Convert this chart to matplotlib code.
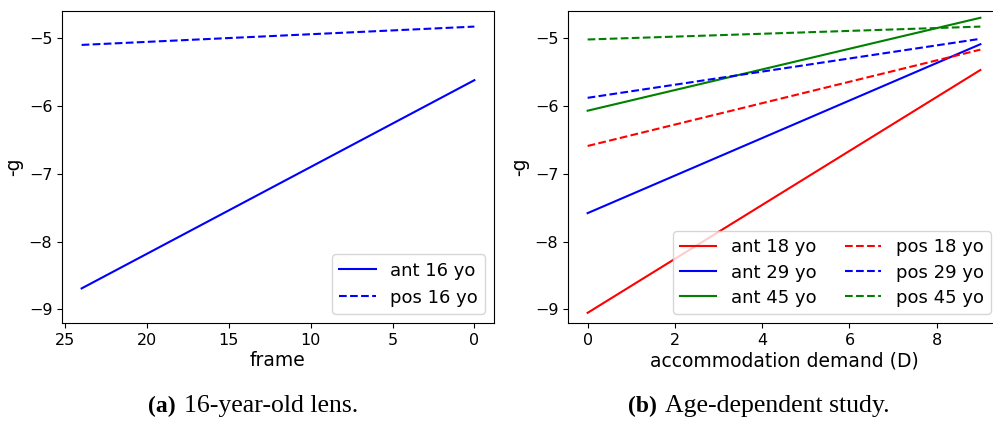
import matplotlib.pyplot as plt

# left panel: 16-year-old lens over frames
frames = [24, 0]
ant_16 = [-8.69, -5.62]
pos_16 = [-5.10, -4.83]

# right panel: age-dependent study vs accommodation demand
demand = [0, 9]
ages = ["18", "29", "45"]
age_colors = ["red", "blue", "green"]
ant_age = [[-9.05, -5.47], [-7.58, -5.09], [-6.07, -4.70]]
pos_age = [[-6.59, -5.17], [-5.88, -5.01], [-5.02, -4.83]]

plt.rcParams["font.size"] = 13.5
plt.rcParams["xtick.labelsize"] = 11.5
plt.rcParams["ytick.labelsize"] = 11.5
plt.rcParams["legend.fontsize"] = 13

W, H = 993, 422
fig = plt.figure(figsize=(W / 100, H / 100), dpi=100)


def box(x0, x1, y0, y1):
    return [x0 / W, 1 - y1 / H, (x1 - x0) / W, (y1 - y0) / H]


ax1 = fig.add_axes(box(62, 494, 11, 323))
ax1.plot(frames, ant_16, "b-", label="ant 16 yo")
ax1.plot(frames, pos_16, "b--", label="pos 16 yo")
ax1.invert_xaxis()
ax1.set_ylim(-9.2, -4.6)
ax1.set_xlabel("frame", labelpad=2.5)
ax1.set_ylabel("-g")
ax1.legend(loc="lower right")

ax2 = fig.add_axes(box(568, 1000, 11, 323))
for age, c, ys in zip(ages, age_colors, ant_age):
    ax2.plot(demand, ys, "-", color=c, label=f"ant {age} yo")
for age, c, ys in zip(ages, age_colors, pos_age):
    ax2.plot(demand, ys, "--", color=c, label=f"pos {age} yo")
ax2.set_ylim(-9.2, -4.6)
ax2.set_xlabel("accommodation demand (D)", labelpad=2.5)
ax2.set_ylabel("-g")
ax2.legend(loc="lower right", ncol=2, columnspacing=1.6, labelspacing=0.4)

# sub-figure captions: bold tag followed by plain text
cap = dict(family="Liberation Serif", ha="left", va="center")
y_cap = 1 - 406 / H
for x_tag, x_txt, tag, text in [(148, 184, "(a)", "16-year-old lens."),
                                (628, 665, "(b)", "Age-dependent study.")]:
    fig.text(x_tag / W, y_cap, tag, fontweight="bold", fontsize=17, **cap)
    fig.text(x_txt / W, y_cap, text, fontsize=18.5, **cap)

fig.savefig("out.png", dpi=100)
